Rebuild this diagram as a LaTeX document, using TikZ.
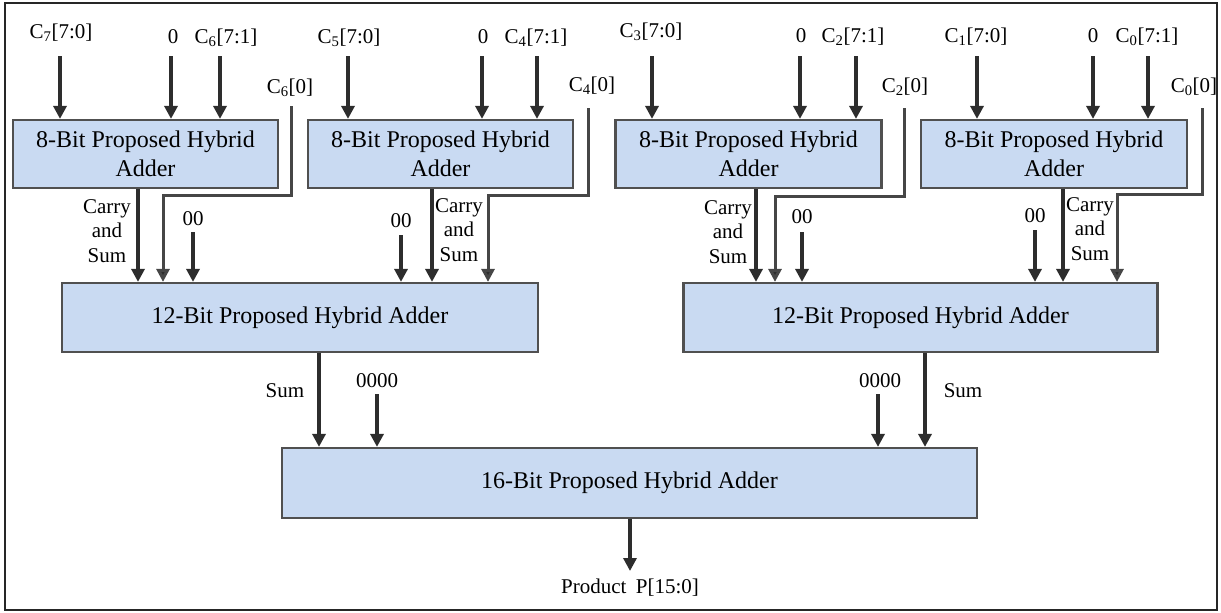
\documentclass[tikz,border=0pt]{standalone}
\usepackage{fontspec}
\setmainfont{Liberation Serif}
\usetikzlibrary{arrows.meta}
\definecolor{boxfill}{RGB}{201,218,242}
\definecolor{boxline}{RGB}{80,80,80}
\definecolor{arrcol}{RGB}{45,45,45}
\definecolor{jogcol}{RGB}{70,70,70}
\begin{document}
\begin{tikzpicture}[x=1pt,y=-1pt,
  adder/.style={draw=boxline, line width=2.2pt, fill=boxfill, align=center, inner sep=0pt,
    font=\fontsize{24}{29}\selectfont},
  lbl/.style={font=\fontsize{21}{24.5}\selectfont, inner sep=0pt, anchor=base},
  mlbl/.style={font=\fontsize{21}{24.5}\selectfont, inner sep=0pt, align=center},
  arr/.style={draw=arrcol, line width=3.3pt, -{Triangle[width=13pt,length=13pt]}},
  jog/.style={draw=jogcol, line width=3pt, -{Triangle[width=13pt,length=13pt,fill=arrcol]}}]
\useasboundingbox (0,0) rectangle (1221,613);
\draw[line width=1.5pt, black!85] (5,3) rectangle (1217,610);

% adders
\node[adder, minimum width=265pt, minimum height=68pt] (b1) at (145.5,154) {8-Bit Proposed Hybrid\\Adder};
\node[adder, minimum width=265pt, minimum height=68pt] (b2) at (440.5,154) {8-Bit Proposed Hybrid\\Adder};
\node[adder, minimum width=266pt, minimum height=68pt] (b3) at (748.5,154) {8-Bit Proposed Hybrid\\Adder};
\node[adder, minimum width=266pt, minimum height=68pt] (b4) at (1054,154) {8-Bit Proposed Hybrid\\Adder};
\node[adder, minimum width=476pt, minimum height=69pt] (l12) at (300,317.5) {12-Bit Proposed Hybrid Adder};
\node[adder, minimum width=474pt, minimum height=69pt] (r12) at (920.5,317.5) {12-Bit Proposed Hybrid Adder};
\node[adder, minimum width=695pt, minimum height=70pt] (b16) at (629.5,483) {16-Bit Proposed Hybrid Adder};

% top labels
\node[lbl] (t1a) at (61,38) {C\textsubscript{7}[7:0]};
\node[lbl] (t1b) at (173,43) {0};
\node[lbl] (t1c) at (226,43) {C\textsubscript{6}[7:1]};
\node[lbl] (t1d) at (290,93) {C\textsubscript{6}[0]};
\node[lbl] (t2a) at (349,43) {C\textsubscript{5}[7:0]};
\node[lbl] (t2b) at (483,43) {0};
\node[lbl] (t2c) at (536,43) {C\textsubscript{4}[7:1]};
\node[lbl] (t2d) at (592,91) {C\textsubscript{4}[0]};
\node[lbl] (t3a) at (651,37) {C\textsubscript{3}[7:0]};
\node[lbl] (t3b) at (801,42) {0};
\node[lbl] (t3c) at (853,42) {C\textsubscript{2}[7:1]};
\node[lbl] (t3d) at (905,92) {C\textsubscript{2}[0]};
\node[lbl] (t4a) at (976,42) {C\textsubscript{1}[7:0]};
\node[lbl] (t4b) at (1093,42) {0};
\node[lbl] (t4c) at (1147,42) {C\textsubscript{0}[7:1]};
\node[lbl] (t4d) at (1194,92) {C\textsubscript{0}[0]};

% top arrow starts
\coordinate (s1a) at (60,56);  \coordinate (s1b) at (171,56);  \coordinate (s1c) at (220,56);
\coordinate (s2a) at (348,56); \coordinate (s2b) at (482,56);  \coordinate (s2c) at (537,56);
\coordinate (s3a) at (652,56); \coordinate (s3b) at (800,56);  \coordinate (s3c) at (856,56);
\coordinate (s4a) at (977,56); \coordinate (s4b) at (1093,56); \coordinate (s4c) at (1148,56);
\foreach \s/\b in {s1a/b1,s1b/b1,s1c/b1,s2a/b2,s2b/b2,s2c/b2,s3a/b3,s3b/b3,s3c/b3,s4a/b4,s4b/b4,s4c/b4}
  \draw[arr] (\s) -- (\s |- \b.north);

% C[0] jog lines
\coordinate (j1) at (291,106);  \coordinate (j1b) at (163,195);
\coordinate (j2) at (588,108);  \coordinate (j2b) at (488,195);
\coordinate (j3) at (904,108);  \coordinate (j3b) at (775,196);
\coordinate (j4) at (1202,108); \coordinate (j4b) at (1117,194);
\draw[jog] (j1) |- (j1b) -- (j1b |- l12.north);
\draw[jog] (j2) |- (j2b) -- (j2b |- l12.north);
\draw[jog] (j3) |- (j3b) -- (j3b |- r12.north);
\draw[jog] (j4) |- (j4b) -- (j4b |- r12.north);

% carry and sum arrows
\coordinate (k1) at (138,0); \coordinate (k2) at (432,0);
\coordinate (k3) at (756,0); \coordinate (k4) at (1063,0);
\draw[arr] (k1 |- b1.south) -- (k1 |- l12.north);
\draw[arr] (k2 |- b2.south) -- (k2 |- l12.north);
\draw[arr] (k3 |- b3.south) -- (k3 |- r12.north);
\draw[arr] (k4 |- b4.south) -- (k4 |- r12.north);
\node[mlbl] (cs1) at (107,231) {Carry\\and\\Sum};
\node[mlbl] (cs2) at (459,230) {Carry\\and\\Sum};
\node[mlbl] (cs3) at (728,232) {Carry\\and\\Sum};
\node[mlbl] (cs4) at (1090,229) {Carry\\and\\Sum};

% 00 inputs
\node[lbl] (z1) at (193,225) {00};
\node[lbl] (z2) at (401,227) {00};
\node[lbl] (z3) at (802,223) {00};
\node[lbl] (z4) at (1035,222) {00};
\coordinate (zs1) at (193,232); \coordinate (zs2) at (401,235);
\coordinate (zs3) at (802,232); \coordinate (zs4) at (1035,230);
\draw[arr] (zs1) -- (zs1 |- l12.north);
\draw[arr] (zs2) -- (zs2 |- l12.north);
\draw[arr] (zs3) -- (zs3 |- r12.north);
\draw[arr] (zs4) -- (zs4 |- r12.north);

% sum arrows into 16-bit
\coordinate (m1) at (319,0); \coordinate (m2) at (925,0);
\draw[arr] (m1 |- l12.south) -- (m1 |- b16.north);
\draw[arr] (m2 |- r12.south) -- (m2 |- b16.north);
\node[lbl] (sl) at (285,397) {Sum};
\node[lbl] (sr) at (963,397) {Sum};
\node[lbl] (q1) at (377,387) {0000};
\node[lbl] (q2) at (880,387) {0000};
\coordinate (qs1) at (377,394); \coordinate (qs2) at (878,394);
\draw[arr] (qs1) -- (qs1 |- b16.north);
\draw[arr] (qs2) -- (qs2 |- b16.north);

% output
\coordinate (o) at (630,571);
\draw[arr] (o |- b16.south) -- (o);
\node[lbl] (prod) at (630,593) {Product\hspace{0.45em}P[15:0]};
\end{tikzpicture}
\end{document}
